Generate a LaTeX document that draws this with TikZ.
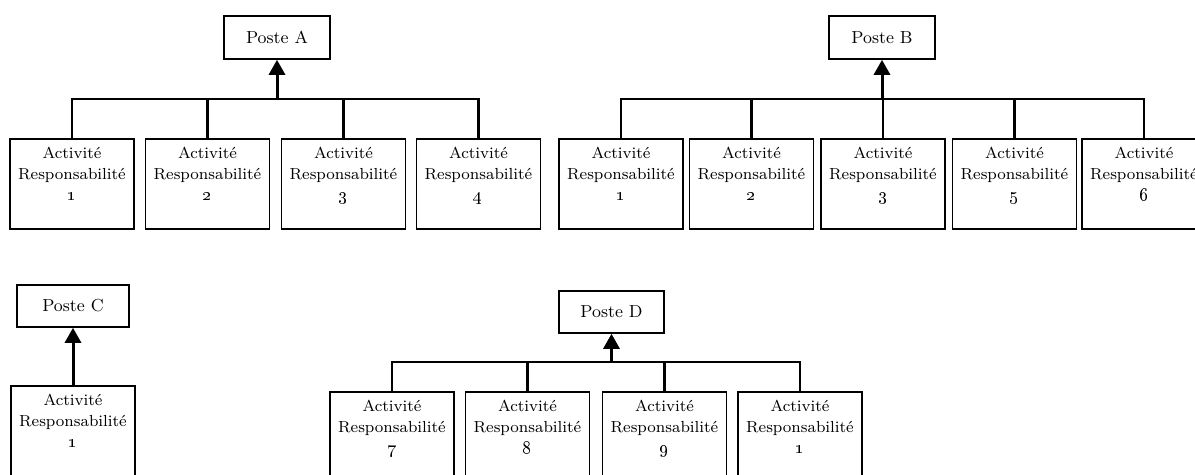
\documentclass[tikz,border=0pt]{standalone}
\usepackage{tikz}
\usetikzlibrary{arrows.meta,positioning,calc}
\tikzset{poste box/.style={draw, line width=0.8pt, minimum width=53pt, minimum height=21.5pt, inner sep=0pt, font=\fontsize{8.7}{10}\selectfont}}
\tikzset{task box/.style={draw, line width=0.8pt, minimum width=62pt, minimum height=45pt, inner sep=0pt, align=center, font=\fontsize{8}{10.5}\selectfont}}
\tikzset{link line/.style={line width=1.2pt}}
\tikzset{up arrow/.style={line width=1.5pt, -{Triangle[width=8pt,length=7.5pt]}}}
\newcommand{\tache}[1]{Activit\'e\\Responsabilit\'e\\{\fontsize{9}{10.5}\selectfont\oldstylenums{#1}}\\\mbox{}}

\begin{document}
\begin{tikzpicture}[x=0.5pt,y=-0.5pt]
\clip (0,0) rectangle (1195,475);

% Poste A
\node[poste box] (pA) at (277,37.5) {Poste A};
\node[task box] (a1) at (72,184) {\tache{1}};
\node[task box] (a2) at (207.5,184) {\tache{2}};
\node[task box] (a3) at (343.5,184) {\tache{3}};
\node[task box] (a4) at (478.5,184) {\tache{4}};
\coordinate (jA) at (277,99);

\draw[link line] (a1.north) |- (a4.north |- jA) -- (a4.north);
\draw[link line] (a2.north) -- (a2.north |- jA);
\draw[link line] (a3.north) -- (a3.north |- jA);
\draw[up arrow] (jA) -- (pA.south);

% Poste B
\node[poste box] (pB) at (882,37.5) {Poste B};
\node[task box] (b1) at (621,184) {\tache{1}};
\node[task box] (b2) at (751.5,184) {\tache{2}};
\node[task box] (b3) at (883,184) {\tache{3}};
\node[task box] (b5) at (1014.5,184) {\tache{5}};
\node[task box] (b6) at (1144,184) {\tache{6}};
\coordinate (jB) at (882,99);

\draw[link line] (b1.north) |- (b6.north |- jB) -- (b6.north);
\draw[link line] (b2.north) -- (b2.north |- jB);
\draw[link line] (b3.north) -- (b3.north |- jB);
\draw[link line] (b5.north) -- (b5.north |- jB);
\draw[up arrow] (jB) -- (pB.south);

% Poste C
\node[poste box, minimum width=56pt, minimum height=21pt] (pC) at (73,306) {Poste C};
\node[task box] (c1) at (73,431) {\tache{1}};

\draw[up arrow] (c1.north) -- (pC.south);

% Poste D
\node[poste box, minimum width=52.5pt, minimum height=21pt] (pD) at (611.5,312) {Poste D};
\node[task box] (d7) at (392,437) {\tache{7}};
\node[task box] (d8) at (527.5,437) {\tache{8}};
\node[task box] (d9) at (664.5,437) {\tache{9}};
\node[task box] (d1) at (800,437) {\tache{1}};
\coordinate (jD) at (611.5,362);

\draw[link line] (d7.north) |- (d1.north |- jD) -- (d1.north);
\draw[link line] (d8.north) -- (d8.north |- jD);
\draw[link line] (d9.north) -- (d9.north |- jD);
\draw[up arrow] (jD) -- (pD.south);

\end{tikzpicture}
\end{document}
